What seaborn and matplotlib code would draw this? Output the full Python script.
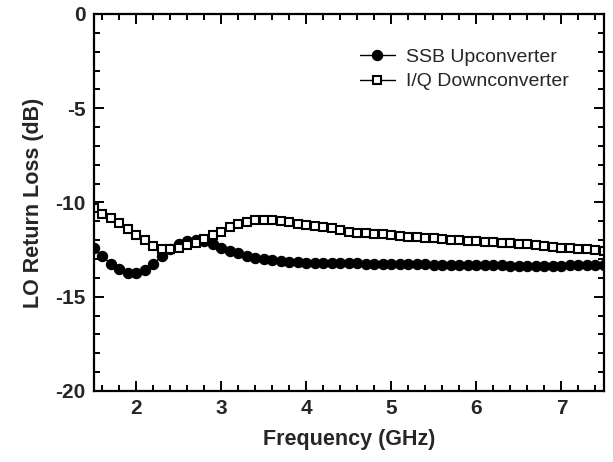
import numpy as np
import pandas as pd
import matplotlib
matplotlib.use("Agg")
import matplotlib.pyplot as plt
from matplotlib.ticker import MultipleLocator
import seaborn as sns

freq = [round(1.5 + 0.1 * i, 1) for i in range(61)]

ssb = [-12.40, -12.85, -13.25, -13.55, -13.75, -13.75, -13.60, -13.25, -12.85, -12.45,
       -12.20, -12.05, -12.00, -12.05, -12.20, -12.40, -12.55, -12.70, -12.82, -12.92,
       -13.00, -13.05, -13.10, -13.14, -13.17, -13.19, -13.20, -13.21, -13.22, -13.22,
       -13.23, -13.23, -13.24, -13.24, -13.25, -13.25, -13.26, -13.26, -13.27, -13.28,
       -13.29, -13.30, -13.30, -13.31, -13.32, -13.32, -13.33, -13.34, -13.34, -13.35,
       -13.35, -13.36, -13.36, -13.36, -13.35, -13.35, -13.34, -13.33, -13.32, -13.31,
       -13.30]

iq = [-10.30, -10.60, -10.84, -11.10, -11.42, -11.72, -11.99, -12.30, -12.48, -12.45,
      -12.43, -12.25, -12.13, -11.95, -11.75, -11.55, -11.32, -11.16, -11.02, -10.95,
      -10.93, -10.95, -11.00, -11.05, -11.12, -11.18, -11.25, -11.31, -11.37, -11.46,
      -11.55, -11.60, -11.63, -11.67, -11.69, -11.72, -11.76, -11.81, -11.85, -11.87,
      -11.90, -11.95, -11.99, -12.00, -12.03, -12.04, -12.08, -12.11, -12.13, -12.17,
      -12.18, -12.22, -12.25, -12.29, -12.34, -12.40, -12.43, -12.47, -12.48, -12.52,
      -12.57]

labels = ["SSB Upconverter", "I/Q Downconverter"]
x_ticks = [2, 3, 4, 5, 6, 7]
y_ticks = [0, -5, -10, -15, -20]

sns.set_style("ticks")
plt.rcParams['font.family'] = ['Liberation Sans', 'DejaVu Sans']
plt.rcParams['axes.unicode_minus'] = False

fig = plt.figure(figsize=(6.13, 4.62), dpi=100)
ax = fig.add_axes([0.1533, 0.1537, 0.832, 0.816])

df1 = pd.DataFrame({"f": freq, "v": ssb})
df2 = pd.DataFrame({"f": freq, "v": iq})

sns.lineplot(data=df1, x="f", y="v", ax=ax, color="black", lw=1.0,
             marker="o", markersize=7.4, markerfacecolor="black",
             markeredgecolor="black", markeredgewidth=0.8, label=labels[0])
sns.lineplot(data=df2, x="f", y="v", ax=ax, color="black", lw=1.0,
             marker="s", markersize=6.2, markerfacecolor="white",
             markeredgecolor="black", markeredgewidth=1.5, label=labels[1])

ax.set_xlim(1.5, 7.5)
ax.set_ylim(-20, 0)
ax.set_xticks(x_ticks)
ax.set_yticks(y_ticks)
ax.xaxis.set_minor_locator(MultipleLocator(0.2))
ax.yaxis.set_minor_locator(MultipleLocator(1))
ax.tick_params(which="both", direction="in", top=True, right=True,
               width=1.4, color="black")
ax.tick_params(which="major", length=7, labelsize=15, pad=6)
ax.tick_params(which="minor", length=4)
for lab in ax.get_xticklabels() + ax.get_yticklabels():
    lab.set_fontweight("bold")
for s in ax.spines.values():
    s.set_linewidth(1.6)
    s.set_color("black")

ax.set_xlabel("Frequency (GHz)", fontsize=15.5, fontweight="bold", labelpad=8)
ax.set_ylabel("LO Return Loss (dB)", fontsize=15.5, fontweight="bold", labelpad=8)

leg = ax.legend(loc="upper right", bbox_to_anchor=(0.955, 0.94), frameon=False,
                fontsize=14, handlelength=1.8, handletextpad=0.6,
                labelspacing=0.35, borderaxespad=0.2)

fig.savefig("out.png", dpi=100)
